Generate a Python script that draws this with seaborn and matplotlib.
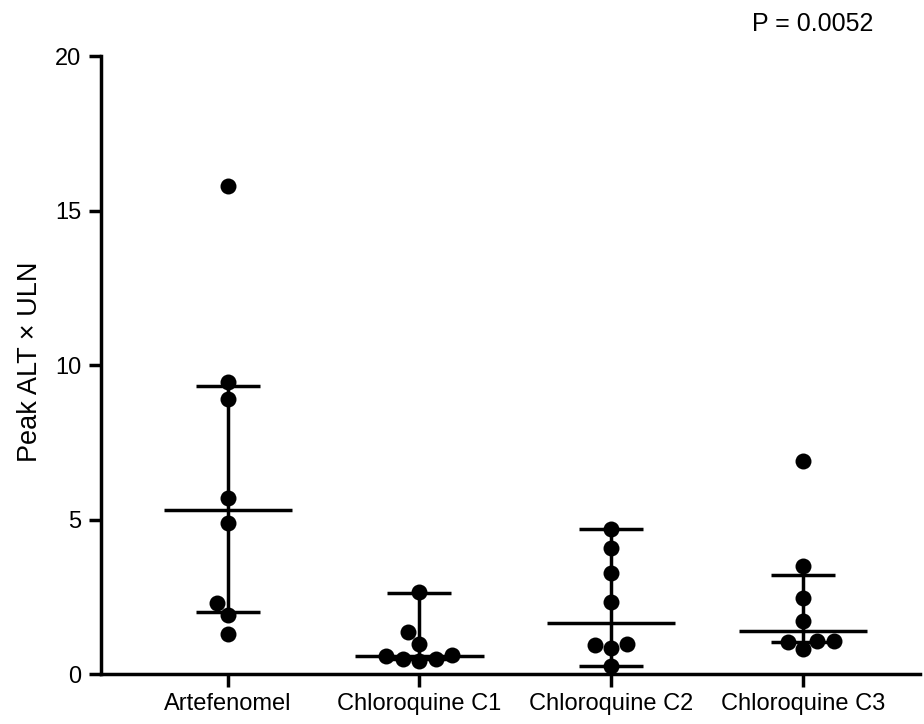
import matplotlib
matplotlib.use("Agg")
import matplotlib.pyplot as plt
import seaborn as sns
import pandas as pd

# Peak ALT (multiples of the upper limit of normal) per participant
groups = ["Artefenomel", "Chloroquine C1", "Chloroquine C2", "Chloroquine C3"]
artefenomel = [15.8, 9.45, 8.9, 5.7, 4.9, 2.3, 1.9, 1.3]
chloroquine_c1 = [2.65, 1.35, 0.97, 0.61, 0.58, 0.48, 0.48, 0.42]
chloroquine_c2 = [4.68, 4.07, 3.26, 2.32, 0.97, 0.94, 0.84, 0.26]
chloroquine_c3 = [6.88, 3.49, 2.46, 1.71, 1.07, 1.07, 1.03, 0.81]

# Median and interquartile range per group
medians = [5.3, 0.6, 1.65, 1.39]
q1 = [2.0, 0.48, 0.26, 1.04]
q3 = [9.33, 2.62, 4.68, 3.22]

y_ticks = [0, 5, 10, 15, 20]
p_label = "P = 0.0052"

df = pd.DataFrame({
    "group": sum([[g] * len(v) for g, v in zip(
        groups, [artefenomel, chloroquine_c1, chloroquine_c2, chloroquine_c3])], []),
    "alt": artefenomel + chloroquine_c1 + chloroquine_c2 + chloroquine_c3,
})

sns.set_theme(style="ticks")
plt.rcParams["font.family"] = ["Liberation Sans", "DejaVu Sans"]
plt.rcParams["text.color"] = "black"
plt.rcParams["axes.labelcolor"] = "black"

fig = plt.figure(figsize=(9.24, 7.24), dpi=100)
ax = fig.add_axes([0.1093, 0.069, 0.886, 0.8536])

lw = 2.5
pos = range(len(groups))
# median (wide) and quartile (narrow) bars, joined by a vertical line
ax.vlines(pos, q1, q3, color="black", linewidth=lw, zorder=2)
ax.hlines(medians, [p - 0.335 for p in pos], [p + 0.335 for p in pos],
          color="black", linewidth=lw, zorder=2)
ax.hlines(q1, [p - 0.167 for p in pos], [p + 0.167 for p in pos],
          color="black", linewidth=lw, zorder=2)
ax.hlines(q3, [p - 0.167 for p in pos], [p + 0.167 for p in pos],
          color="black", linewidth=lw, zorder=2)

sns.swarmplot(data=df, x="group", y="alt", order=groups, color="black",
              size=11.5, linewidth=0, ax=ax, zorder=3)

ax.set_xlim(-0.662, 3.61)
ax.set_ylim(0, 20)
ax.set_yticks(y_ticks)
ax.set_xlabel("")
ax.set_ylabel("Peak ALT \u00d7 ULN", fontsize=19.5)
ax.yaxis.label.set_va("center")
ax.yaxis.set_label_coords(-0.087, 0.505)

for s in ["top", "right"]:
    ax.spines[s].set_visible(False)
for s in ["left", "bottom"]:
    ax.spines[s].set_linewidth(lw)
    ax.spines[s].set_color("black")
ax.tick_params(axis="both", length=9, width=lw, color="black",
               labelsize=17, labelcolor="black", pad=5)

fig.text(0.9448, 0.967, p_label, ha="right", va="center", fontsize=18, color="black")

fig.savefig("out.png", dpi=100)
